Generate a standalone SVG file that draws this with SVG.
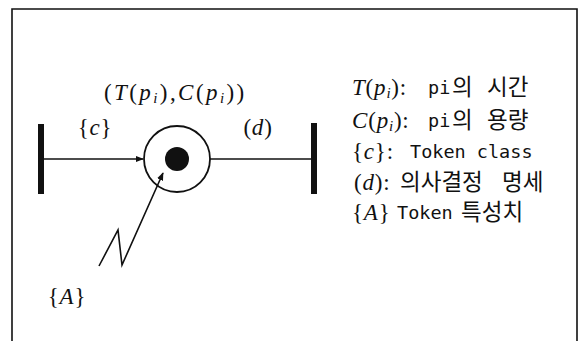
<svg xmlns="http://www.w3.org/2000/svg" width="586" height="341" viewBox="0 0 586 341">
<defs>
<style>
.math{font-family:"Liberation Serif",serif;font-size:23px;letter-spacing:0.8px;fill:#111}
.it{font-style:italic}
.sub{font-style:italic;font-size:15px}
.kr{font-family:"Noto Sans CJK KR","DejaVu Sans",sans-serif;font-size:22.5px;font-weight:400;fill:#111}
.mono{font-family:"DejaVu Sans Mono","Liberation Mono",monospace;font-size:18.5px;fill:#111}
.ln{stroke:#111;stroke-width:1.6;fill:none}
.bar{fill:#111}
</style>
<marker id="ah" viewBox="0 0 10 10" refX="9" refY="5" markerWidth="8" markerHeight="8" markerUnits="userSpaceOnUse" orient="auto">
<path d="M0,1 L10,5 L0,9 Z" fill="#111"/>
</marker>
</defs>
<rect width="586" height="341" fill="#fff"/>
<path d="M12,341 L12,9 L577,9 L577,341" class="ln"/>
<g id="t1"><rect class="bar" x="38" y="124" width="6" height="70"/></g>
<g id="t2"><rect class="bar" x="311" y="123" width="6" height="71"/></g>
<g id="p1">
<circle cx="177" cy="159" r="33" fill="#fff" stroke="#111" stroke-width="1.8"/>
<circle cx="177" cy="159" r="12" fill="#111"/>
<text class="math" x="104" y="100" textLength="141" lengthAdjust="spacing">(<tspan class="it">T</tspan>(<tspan class="it">p</tspan><tspan class="sub" dy="3">i</tspan><tspan dy="-3">),</tspan><tspan class="it">C</tspan>(<tspan class="it">p</tspan><tspan class="sub" dy="3">i</tspan><tspan dy="-3">))</tspan></text>
</g>
<g id="connectors">
<line x1="44" y1="159" x2="143" y2="159" class="ln" marker-end="url(#ah)"/>
<line x1="210" y1="159" x2="311" y2="159" class="ln"/>
<polyline points="99,266 118,230 122,265 163,173" class="ln" marker-end="url(#ah)"/>
<text class="math" x="95" y="135" text-anchor="middle">{<tspan class="it">c</tspan>}</text>
<text class="math" x="258" y="135" text-anchor="middle">(<tspan class="it">d</tspan>)</text>
<text class="math" x="67" y="304" text-anchor="middle">{<tspan class="it">A</tspan>}</text>
</g>
<g id="legend">
<text class="math" x="352" y="95"><tspan class="it">T</tspan>(<tspan class="it">p</tspan><tspan class="sub" dy="3">i</tspan><tspan dy="-3">):</tspan></text>
<text class="mono" x="428" y="94">pi</text>
<text class="kr" x="452" y="95">의</text>
<text class="kr" x="487" y="95">시간</text>
<text class="math" x="352" y="128"><tspan class="it">C</tspan>(<tspan class="it">p</tspan><tspan class="sub" dy="3">i</tspan><tspan dy="-3">):</tspan></text>
<text class="mono" x="428" y="127">pi</text>
<text class="kr" x="452" y="128">의</text>
<text class="kr" x="487" y="128">용량</text>
<text class="math" x="352" y="159">{<tspan class="it">c</tspan>}:</text>
<text class="mono" x="410" y="158">Token class</text>
<text class="math" x="354" y="190">(<tspan class="it">d</tspan>):</text>
<text class="kr" x="400" y="190">의사결정</text>
<text class="kr" x="502" y="190">명세</text>
<text class="math" x="352" y="220">{<tspan class="it">A</tspan>}</text>
<text class="mono" x="397" y="219">Token</text>
<text class="kr" x="461" y="220">특성치</text>
</g>
</svg>
